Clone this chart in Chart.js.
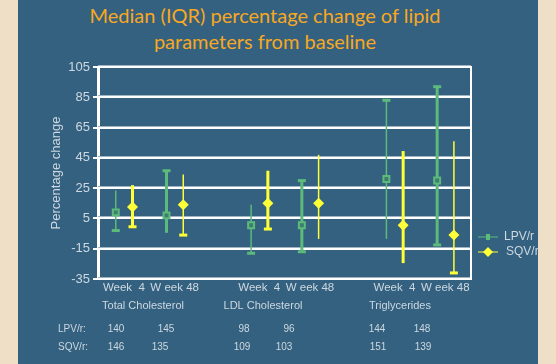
<!DOCTYPE html>
<html><head><meta charset="utf-8">
<style>
html,body{margin:0;padding:0;background:#f0dfc7;width:556px;height:364px;overflow:hidden}
#panel{position:absolute;left:18px;top:0;width:520px;height:364px;background:#33617f}
#title{position:absolute;left:5px;width:520px;top:2px;text-align:center;color:#f7a823;font:20px/26px Lato,"Open Sans",sans-serif}
#wrap{position:absolute;left:0;top:0;width:556px;height:364px}
</style>
<script src="https://cdn.jsdelivr.net/npm/chart.js@4.4.1/dist/chart.umd.min.js"></script>
</head><body>
<div id="panel"></div>
<div id="title">Median (IQR) percentage change of lipid<br>parameters from baseline</div>
<div id="wrap"><canvas id="c" width="556" height="364"></canvas></div>
<script>
// ---- data ----
const timeLabels = ['Week  4', 'W eek 48', 'Week  4', 'W eek 48', 'Week  4', 'W eek 48'];
const groupLabels = ['Total Cholesterol', 'LDL Cholesterol', 'Triglycerides'];
const yTicks = [105, 85, 65, 45, 25, 5, -15, -35];
const seriesNames = ['LPV/r', 'SQV/r'];
const lpvMedian = [9, 7, 0.5, 0.5, 31, 30];
const lpvLow    = [-3, -4.5, -18, -17, -8.5, -12.5];
const lpvHigh   = [23.5, 36.5, 14, 30, 83, 92];
const sqvMedian = [12.5, 14, 15, 15, 0.5, -6];
const sqvLow    = [-0.5, -6, -2, -8.5, -24.5, -31];
const sqvHigh   = [27, 34, 36.5, 47, 49.5, 56];
const lpvN = [140, 145, 98, 96, 144, 148];
const sqvN = [146, 135, 109, 103, 151, 139];
// caps drawn at [low, high] ends
const lpvCaps = [[1,0],[0,1],[1,0],[1,1],[0,1],[1,1]];
const sqvCaps = [[1,0],[1,0],[1,0],[0,0],[0,0],[1,0]];

// ---- layout ----
const slotX = [0, 1, 2.667, 3.667, 5.333, 6.333];
const lpvOffset = -0.16, sqvOffset = 0.17;
const lpvWidths = [1.5, 3, 1.5, 3, 1.5, 3];
const sqvWidths = [3, 1.5, 3, 1.5, 3, 1.5];
const groupX = [143, 263, 400];
const lpvNX = [116, 166, 244, 289, 377, 422];
const sqvNX = [116, 160, 242, 284, 378, 423];
const GREEN = '#5cba7b', YELLOW = '#ffff38', TXT = '#cdd8e1';
const FONT = '"Liberation Sans", Arial, sans-serif';

const lpvPts = lpvMedian.map((v, i) => ({x: slotX[i] + lpvOffset, y: v}));
const sqvPts = sqvMedian.map((v, i) => ({x: slotX[i] + sqvOffset, y: v}));

const errorBars = {
  id: 'errorBars',
  beforeDatasetsDraw(chart) {
    const ctx = chart.ctx, ys = chart.scales.y;
    const specs = [[lpvLow, lpvHigh, lpvCaps, lpvWidths, GREEN], [sqvLow, sqvHigh, sqvCaps, sqvWidths, YELLOW]];
    ctx.save();
    ctx.strokeStyle = '#9fb3c3'; ctx.lineWidth = 1;
    yTicks.forEach(t => {
      const y = Math.round(ys.getPixelForValue(t)) - 1.5;
      ctx.beginPath(); ctx.moveTo(chart.chartArea.left, y); ctx.lineTo(chart.chartArea.right, y); ctx.stroke();
    });
    ctx.strokeStyle = '#ffffff'; ctx.lineWidth = 2;
    ctx.beginPath(); ctx.moveTo(chart.chartArea.right, chart.chartArea.top - 1); ctx.lineTo(chart.chartArea.right, chart.chartArea.bottom + 1); ctx.stroke();
    specs.forEach((s, d) => {
      const meta = chart.getDatasetMeta(d);
      meta.data.forEach((pt, i) => {
        const x = pt.x, yl = ys.getPixelForValue(s[0][i]), yh = ys.getPixelForValue(s[1][i]);
        ctx.strokeStyle = s[4]; ctx.lineWidth = s[3][i];
        ctx.beginPath(); ctx.moveTo(x, yl); ctx.lineTo(x, yh); ctx.stroke();
        ctx.lineWidth = 3;
        if (s[2][i][0]) { ctx.beginPath(); ctx.moveTo(x - 4, yl); ctx.lineTo(x + 4, yl); ctx.stroke(); }
        if (s[2][i][1]) { ctx.beginPath(); ctx.moveTo(x - 4, yh); ctx.lineTo(x + 4, yh); ctx.stroke(); }
      });
    });
    ctx.restore();
  },
  afterDraw(chart) {
    const ctx = chart.ctx;
    ctx.save();
    ctx.fillStyle = TXT;
    ctx.textBaseline = 'middle';
    ctx.textAlign = 'center';
    ctx.font = '11px ' + FONT;
    groupLabels.forEach((g, i) => ctx.fillText(g, groupX[i], 306));
    ctx.font = '10px ' + FONT;
    lpvN.forEach((n, i) => ctx.fillText(String(n), lpvNX[i], 329));
    sqvN.forEach((n, i) => ctx.fillText(String(n), sqvNX[i], 347));
    ctx.textAlign = 'left';
    ctx.fillText(seriesNames[0] + ':', 58, 329);
    ctx.fillText(seriesNames[1] + ':', 58, 347);
    // legend
    ctx.font = '12px ' + FONT;
    const lx = 478, ly = [237, 252];
    ctx.lineWidth = 1;
    ctx.strokeStyle = GREEN;
    ctx.beginPath(); ctx.moveTo(lx, ly[0]); ctx.lineTo(lx + 20, ly[0]); ctx.stroke();
    ctx.fillStyle = GREEN; ctx.fillRect(lx + 8, ly[0] - 3, 4, 6);
    ctx.strokeStyle = YELLOW;
    ctx.beginPath(); ctx.moveTo(lx, ly[1]); ctx.lineTo(lx + 20, ly[1]); ctx.stroke();
    ctx.fillStyle = YELLOW;
    ctx.beginPath(); ctx.moveTo(lx + 10, ly[1] - 5); ctx.lineTo(lx + 15, ly[1]); ctx.lineTo(lx + 10, ly[1] + 5); ctx.lineTo(lx + 5, ly[1]); ctx.closePath(); ctx.fill();
    ctx.fillStyle = TXT;
    ctx.fillText(seriesNames[0], lx + 26, ly[0]);
    ctx.fillText(seriesNames[1], lx + 28, ly[1]);
    ctx.restore();
  }
};

new Chart(document.getElementById('c'), {
  type: 'scatter',
  data: {
    datasets: [
      {label: seriesNames[0], data: lpvPts, pointStyle: 'rect', pointRadius: 4.2, pointBorderWidth: 2,
       pointBorderColor: GREEN, pointBackgroundColor: '#3f7d6e', pointHoverRadius: 4.2},
      {label: seriesNames[1], data: sqvPts, pointStyle: 'rectRot', pointRadius: 5.5, pointBorderWidth: 0,
       pointBorderColor: YELLOW, pointBackgroundColor: YELLOW, pointHoverRadius: 5.5}
    ]
  },
  options: {
    responsive: false, animation: false, events: [],
    layout: {padding: {top: 67, right: 85, left: 0, bottom: 0}},
    plugins: {legend: {display: false}, tooltip: {enabled: false}},
    scales: {
      x: {
        type: 'linear', min: -0.51, max: 6.84,
        afterBuildTicks: s => { s.ticks = slotX.map(v => ({value: v})); },
        afterFit: s => { s.height = 85; },
        grid: {display: false, drawTicks: false, tickLength: 0},
        border: {display: false},
        ticks: {color: TXT, padding: 2, maxRotation: 0, autoSkip: false,
          font: {family: FONT, size: 11.5},
          callback: (v, i) => timeLabels[i]}
      },
      y: {
        min: -35, max: 105,
        afterBuildTicks: s => { s.ticks = yTicks.map(v => ({value: v})); },
        afterFit: s => { s.width = 98; },
        grid: {color: '#ffffff', lineWidth: 2, tickLength: 5, tickColor: '#ffffff'},
        border: {display: true, color: '#ffffff', width: 3},
        ticks: {color: TXT, padding: 3, font: {family: FONT, size: 13}},
        title: {display: true, text: 'Percentage change', color: TXT, padding: {top: 49, bottom: 0},
          font: {family: FONT, size: 13}}
      }
    }
  },
  plugins: [errorBars]
});
</script>
</body></html>
